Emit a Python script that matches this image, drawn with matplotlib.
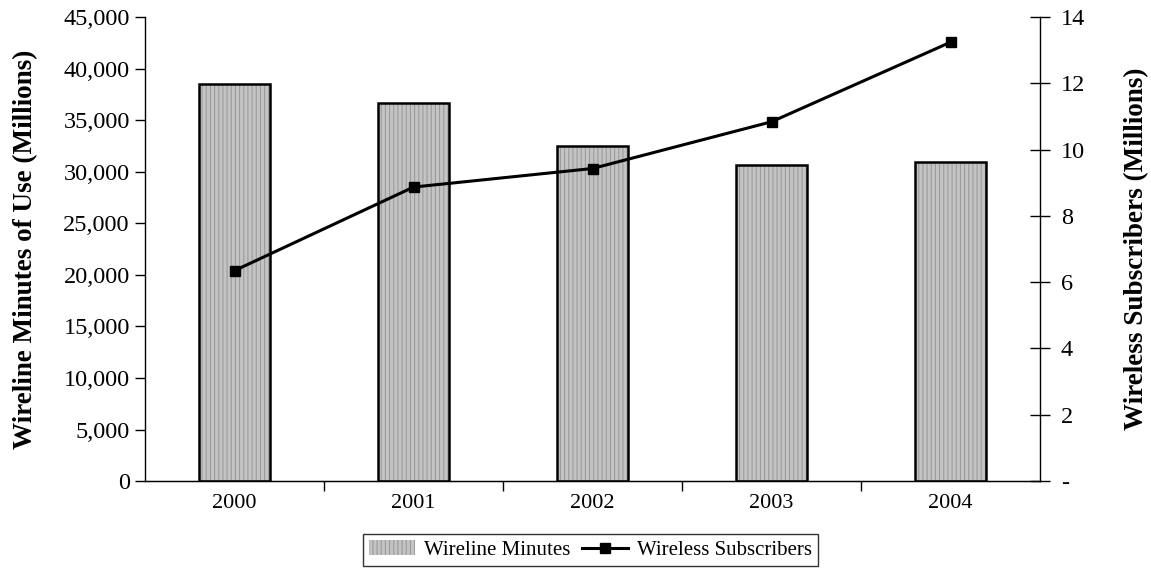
import matplotlib
matplotlib.use("Agg")
import matplotlib.pyplot as plt
from matplotlib.patches import Patch
from matplotlib.ticker import FuncFormatter, MultipleLocator, FixedLocator

plt.rcParams["font.family"] = ["Liberation Serif", "DejaVu Serif"]
plt.rcParams["hatch.color"] = "#9a9a9a"
plt.rcParams["hatch.linewidth"] = 0.8

years = ["2000", "2001", "2002", "2003", "2004"]
wireline_minutes = [38500, 36700, 32450, 30650, 30900]
wireless_subs = [6.35, 8.87, 9.43, 10.84, 13.24]

fig = plt.figure(figsize=(11.51, 5.81), dpi=100)
ax = fig.add_axes([0.126, 0.172, 0.7776, 0.7987])
ax2 = ax.twinx()

x = list(range(len(years)))
# textured fill, then a black outline on top
ax.bar(x, wireline_minutes, width=0.4, color="#c4c4c4", edgecolor="#9a9a9a",
       linewidth=0, hatch="||||", zorder=2)
ax.bar(x, wireline_minutes, width=0.4, fill=False, edgecolor="black",
       linewidth=1.8, zorder=2.5)

ax2.plot(x, wireless_subs, color="black", lw=2.2, marker="s", ms=6.5,
         label="Wireless Subscribers", zorder=3)

ax.set_xlim(-0.5, 4.5)
ax.set_ylim(0, 45000)
ax2.set_ylim(0, 14)

ax.yaxis.set_major_locator(MultipleLocator(5000))
ax.yaxis.set_major_formatter(FuncFormatter(lambda v, p: f"{int(v):,}"))
ax2.yaxis.set_major_locator(MultipleLocator(2))
ax2.yaxis.set_major_formatter(FuncFormatter(lambda v, p: "-" if v == 0 else f"{int(v)}"))

ax.set_xticks(x)
ax.set_xticklabels(years)
ax.xaxis.set_minor_locator(FixedLocator([0.5, 1.5, 2.5, 3.5]))
ax.tick_params(axis="x", which="major", length=0, pad=9, labelsize=16)
ax.tick_params(axis="x", which="minor", length=7, direction="out", width=1)
ax.tick_params(axis="y", length=7, direction="out", width=1, labelsize=17.5, pad=4)
ax2.tick_params(axis="y", length=14, direction="inout", width=1, labelsize=17.5, pad=8)

ax.spines["top"].set_visible(False)
ax2.spines["top"].set_visible(False)
ax2.spines["left"].set_visible(False)
ax.spines["right"].set_visible(False)
for sp in [ax.spines["left"], ax.spines["bottom"], ax2.spines["right"]]:
    sp.set_linewidth(1)
    sp.set_color("black")

ax.set_ylabel("Wireline Minutes of Use (Millions)", fontsize=19.5, fontweight="bold", labelpad=18)
ax2.set_ylabel("Wireless Subscribers (Millions)", fontsize=19.5, fontweight="bold", labelpad=28)

bar_handle = Patch(facecolor="#c4c4c4", edgecolor="#9a9a9a", hatch="||||", linewidth=0)
h2, l2 = ax2.get_legend_handles_labels()
leg = fig.legend([bar_handle] + h2, ["Wireline Minutes"] + l2, loc="center",
                 bbox_to_anchor=(0.513, 0.053), ncol=2,
                 frameon=True, fancybox=False, edgecolor="black", fontsize=15,
                 handlelength=2.2, handletextpad=0.4, columnspacing=0.6,
                 borderpad=0.3)
leg.get_frame().set_linewidth(1)

fig.savefig("out.png", dpi=100)
